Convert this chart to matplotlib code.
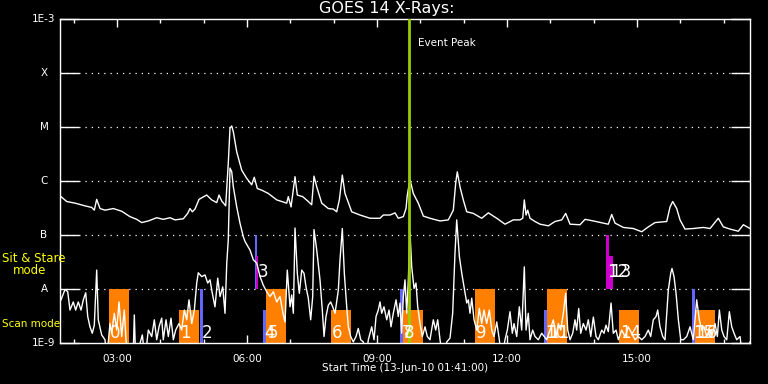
import numpy as np
import matplotlib
matplotlib.use("Agg")
import matplotlib.pyplot as plt
import matplotlib.transforms as mtransforms

# ---- data: minutes after 13-Jun-2010 01:41:00, log10 flux (W/m^2) ----
long_t = [1.4, 9.3, 20.8, 34.6, 43.9, 47.5, 50.8, 55.4, 62.3, 73.8, 85.4, 96.9, 106.2, 113.1,
          122.3, 133.9, 143.0, 152.3, 159.2, 170.7, 176.8, 180.0, 183.2, 186.9, 192.5, 203.1,
          210.1, 217.0, 220.2, 223.9, 229.4, 233.0, 235.4, 237.8, 240.0, 244.7, 251.6, 258.5,
          265.4, 269.0, 273.2, 279.3, 288.4, 300.1, 313.9, 316.1, 319.9, 325.4, 328.6, 336.1,
          343.8, 348.5, 351.7, 355.5, 362.4, 371.5, 378.4, 383.1, 386.8, 390.9, 394.6, 403.9,
          415.4, 429.3, 443.1, 447.7, 457.0, 463.9, 468.4, 475.4, 479.1, 480.9, 484.6, 489.2,
          496.1, 503.1, 512.3, 526.2, 537.7, 544.6, 547.9, 550.1, 553.9, 558.4, 563.2, 572.3,
          583.9, 593.1, 604.7, 616.2, 627.7, 637.0, 640.7, 642.9, 645.3, 647.6, 650.8, 657.7,
          664.7, 676.2, 685.4, 694.7, 700.2, 706.2, 720.0, 727.0, 738.5, 752.3, 759.2, 763.9,
          768.5, 780.0, 793.9, 805.5, 814.6, 823.9, 840.1, 844.7, 848.4, 853.9, 858.5, 865.4,
          876.9, 890.8, 900.1, 911.5, 918.5, 927.7, 939.2, 946.2, 955.4]
long_logf = [-6.29, -6.38, -6.41, -6.46, -6.49, -6.54, -6.34, -6.51, -6.54, -6.51, -6.56, -6.66,
             -6.71, -6.77, -6.74, -6.68, -6.71, -6.68, -6.72, -6.70, -6.60, -6.51, -6.57, -6.52,
             -6.34, -6.26, -6.35, -6.40, -6.26, -6.37, -6.46, -5.67, -5.02, -4.98, -5.09, -5.46,
             -5.80, -5.95, -6.07, -5.93, -6.14, -6.17, -6.23, -6.35, -6.41, -6.29, -6.48, -5.92,
             -6.26, -6.29, -6.38, -6.44, -5.91, -6.11, -6.41, -6.51, -6.52, -6.57, -6.35, -5.89,
             -6.23, -6.57, -6.63, -6.69, -6.69, -6.63, -6.63, -6.59, -6.69, -6.66, -6.51, -6.26,
             -5.97, -6.23, -6.41, -6.65, -6.69, -6.74, -6.72, -6.54, -6.04, -5.83, -6.11, -6.35,
             -6.57, -6.60, -6.69, -6.59, -6.69, -6.80, -6.72, -6.72, -6.69, -6.35, -6.63, -6.54,
             -6.69, -6.75, -6.80, -6.83, -6.75, -6.72, -6.60, -6.80, -6.81, -6.71, -6.74, -6.78,
             -6.80, -6.62, -6.78, -6.86, -6.88, -6.94, -6.85, -6.77, -6.75, -6.48, -6.38, -6.51,
             -6.72, -6.89, -6.88, -6.86, -6.88, -6.69, -6.85, -6.89, -6.93, -6.81, -6.88]

short_t = [1.4, 6.9, 10.7, 13.8, 18.4, 21.7, 25.3, 29.1, 32.3, 35.6, 38.4, 41.5, 44.7, 47.5,
           50.8, 53.0, 57.7, 62.3, 64.7, 69.2, 71.6, 75.2, 78.5, 81.7, 85.4, 89.0, 91.4, 94.6,
           101.1, 102.9, 104.8, 114.0, 117.7, 122.3, 127.0, 130.6, 133.9, 137.1, 140.8, 143.0,
           146.8, 150.0, 153.7, 156.9, 160.2, 164.8, 168.5, 172.1, 175.4, 178.6, 182.4, 186.0,
           189.3, 191.5, 196.2, 200.8, 204.5, 207.7, 210.9, 214.6, 218.4, 221.6, 225.3, 228.5,
           230.9, 233.0, 235.4, 237.8, 240.0, 244.7, 249.2, 253.8, 256.2, 263.1, 267.7, 272.4,
           277.0, 281.5, 286.2, 290.8, 295.4, 300.1, 304.6, 309.2, 311.6, 314.7, 318.5, 320.8,
           323.1, 325.4, 328.6, 331.4, 334.7, 337.9, 340.6, 343.8, 347.1, 349.9, 351.7, 355.5,
           360.0, 363.2, 365.6, 368.3, 371.5, 374.8, 377.6, 380.8, 385.4, 387.7, 390.9, 393.7,
           397.0, 399.2, 402.5, 406.1, 409.9, 413.0, 416.4, 420.0, 423.7, 426.9, 431.6, 434.8,
           437.6, 440.7, 443.1, 445.4, 448.6, 452.4, 455.6, 458.3, 461.5, 465.3, 468.4, 470.8,
           473.1, 475.4, 477.7, 480.1, 482.3, 484.6, 487.0, 490.2, 492.9, 495.3, 498.5, 501.7,
           505.4, 508.6, 512.3, 516.9, 520.2, 523.0, 526.2, 529.9, 535.5, 540.0, 543.7, 546.9,
           549.3, 553.0, 556.3, 559.4, 563.2, 565.4, 567.7, 570.1, 573.3, 577.0, 580.6, 583.9,
           587.1, 590.8, 594.5, 597.8, 601.0, 604.7, 608.3, 611.6, 616.2, 619.4, 623.1, 626.3,
           628.7, 632.4, 636.0, 639.3, 642.9, 645.3, 648.4, 650.8, 654.5, 657.7, 662.3, 667.0,
           673.9, 678.5, 683.1, 686.8, 690.0, 693.3, 696.9, 700.2, 703.0, 706.2, 709.9, 713.1,
           715.4, 718.2, 721.0, 724.6, 728.4, 731.5, 734.9, 738.5, 742.2, 745.4, 750.1, 753.3,
           756.0, 759.2, 763.0, 766.1, 769.9, 773.1, 777.8, 782.3, 786.9, 791.6, 796.2, 800.8,
           805.5, 810.0, 814.6, 817.9, 821.5, 825.3, 827.6, 830.8, 834.5, 837.7, 840.1, 842.3,
           845.6, 847.4, 850.2, 853.0, 856.2, 859.5, 863.1, 867.8, 872.4, 876.9, 881.6, 885.2,
           888.6, 891.7, 895.5, 899.1, 902.4, 907.0, 910.2, 913.0, 916.3, 919.4, 923.2, 926.8,
           930.1, 933.3, 937.0, 941.6, 945.3, 950.8, 955.4]
short_logf = [-8.20, -8.01, -8.05, -8.39, -8.24, -8.39, -8.24, -8.39, -8.20, -8.07, -8.51, -8.70,
              -8.82, -8.67, -7.65, -8.57, -8.85, -8.94, -9.30, -8.64, -8.82, -8.45, -8.76, -8.24,
              -8.88, -8.39, -8.94, -9.30, -9.30, -8.48, -9.30, -8.85, -9.30, -8.76, -8.88, -8.57,
              -8.94, -8.70, -8.54, -8.94, -8.57, -8.88, -8.54, -8.94, -8.76, -8.64, -8.76, -8.39,
              -8.57, -8.20, -8.64, -8.39, -7.89, -7.70, -7.77, -7.74, -7.89, -7.83, -8.08, -8.33,
              -7.80, -8.14, -7.96, -8.45, -7.52, -7.09, -5.76, -5.83, -6.11, -6.48, -6.78, -7.03,
              -7.12, -7.28, -7.46, -7.52, -7.77, -7.93, -8.05, -8.14, -8.05, -8.24, -8.14, -8.48,
              -8.61, -7.65, -8.33, -8.11, -8.45, -6.87, -7.71, -8.08, -7.65, -7.71, -7.96, -8.17,
              -8.57, -8.14, -6.90, -7.28, -7.83, -8.39, -8.88, -8.51, -8.30, -8.24, -8.33, -8.45,
              -8.02, -7.46, -6.88, -7.71, -8.33, -8.70, -8.88, -8.98, -8.88, -8.73, -8.94, -8.98,
              -9.30, -8.94, -8.70, -8.94, -8.51, -8.39, -8.24, -8.45, -8.33, -8.57, -8.39, -8.70,
              -8.45, -8.20, -8.51, -8.26, -8.82, -8.14, -7.83, -8.45, -7.83, -6.94, -7.59, -7.99,
              -7.89, -8.33, -8.64, -8.88, -8.70, -8.88, -8.94, -8.57, -8.76, -8.57, -8.94, -9.30,
              -8.98, -8.91, -8.45, -7.34, -6.72, -7.40, -7.71, -7.96, -8.26, -8.20, -8.45, -8.17,
              -8.57, -8.76, -8.36, -8.64, -8.39, -8.64, -8.39, -8.76, -8.88, -8.61, -8.94, -9.30,
              -8.94, -8.76, -8.42, -8.82, -8.64, -8.88, -8.33, -8.76, -7.59, -8.76, -8.45, -8.94,
              -8.76, -8.88, -8.94, -8.82, -8.94, -8.76, -8.57, -8.88, -8.64, -8.76, -8.45, -8.08,
              -8.76, -8.94, -8.82, -8.57, -8.76, -8.36, -8.82, -8.64, -8.76, -8.57, -8.88, -8.52,
              -8.88, -8.94, -8.76, -8.82, -8.67, -8.79, -8.26, -8.82, -8.76, -8.94, -8.76, -8.88,
              -8.70, -8.82, -8.94, -8.88, -8.94, -8.88, -8.76, -8.88, -8.57, -8.51, -8.39, -8.70,
              -8.88, -8.94, -8.45, -8.02, -7.71, -7.62, -7.77, -8.08, -8.57, -8.94, -8.94, -8.88,
              -8.70, -8.94, -8.20, -8.57, -8.76, -8.70, -8.88, -8.76, -8.88, -8.64, -8.88, -8.39,
              -8.76, -8.88, -8.94, -8.42, -8.70, -8.82, -8.94, -8.88, -9.30, -9.30, -8.98]

# ---- observation bars: start/end (minutes after 01:41), bottom/top flux ----
bar_start = [67.8, 164.8, 193.9, 270.0, 271.4, 281.5, 285.3, 375.3, 470.8, 475.0, 574.6,
             670.2, 674.3, 756.0, 759.8, 774.0, 875.1, 879.3]
bar_end = [95.5, 192.5, 198.4, 272.8, 274.2, 285.3, 312.5, 402.5, 475.0, 502.2, 602.4,
           674.3, 702.0, 759.8, 765.7, 801.7, 879.3, 907.0]
bar_bottom = [1e-9, 1e-9, 1e-9, 1e-8, 1e-8, 1e-9, 1e-9, 1e-9, 1e-9, 1e-9, 1e-9,
              1e-9, 1e-9, 1e-8, 1e-8, 1e-9, 1e-9, 1e-9]
bar_top = [1e-8, 4e-9, 1e-8, 1e-7, 4e-8, 4e-9, 1e-8, 4e-9, 1e-8, 4e-9, 1e-8,
           4e-9, 1e-8, 1e-7, 4e-8, 4e-9, 1e-8, 4e-9]
bar_kind = ["scan", "scan", "blue", "blue", "sit", "blue", "scan", "scan", "blue", "scan", "scan",
            "blue", "scan", "sit", "sit", "scan", "blue", "scan"]
bar_label = ["0", "1", "2", "", "3", "4", "5", "6", "7", "8", "9",
             "10", "11", "12", "13", "14", "15", "16"]

event_peak = 483.0  # minutes after start (~09:44)
t0_hours = 1 + 41 / 60.0
t_span = 955.4

level_vals = [1e-8, 1e-7, 1e-6, 1e-5, 1e-4]
level_names = ["A", "B", "C", "M", "X"]

kind_color = {"scan": "#ff8000", "blue": "#6464ff", "sit": "#cc00cc"}

W, H = 768, 384
fig = plt.figure(figsize=(W / 100, H / 100), dpi=100, facecolor="black")
ax = fig.add_axes([60 / W, 1 - 343 / H, 690 / W, 324 / H], facecolor="black")
ax.set_yscale("log")
ax.set_ylim(1e-9, 1e-3)
ax.set_xlim(t0_hours, t0_hours + t_span / 60.0)


def hrs(m):
    return t0_hours + np.asarray(m) / 60.0


# bars
for s, e, b, tp, k in zip(bar_start, bar_end, bar_bottom, bar_top, bar_kind):
    ax.fill_between([hrs(s), hrs(e)], [b, b], [tp, tp], color=kind_color[k], lw=0, zorder=2)

# gridlines
for v in level_vals:
    ax.axhline(v, color="white", lw=0.9, ls=(0, (1, 4)), zorder=1)

# curves
ax.plot(hrs(long_t), 10 ** np.array(long_logf), color="white", lw=1.0, zorder=3)
ax.plot(hrs(short_t), 10 ** np.array(short_logf), color="white", lw=1.0, zorder=3)

# event peak
ax.axvline(hrs(event_peak), color="#99cc00", lw=2.0, zorder=4)
ax.text(hrs(event_peak) + 0.22, 10 ** (-3.45), "Event Peak", color="white", fontsize=7.5,
        va="center", ha="left")

# labels on bars
narrow = ["Liberation Sans Narrow", "DejaVu Sans"]
for s, tp, k, lab in zip(bar_start, bar_top, bar_kind, bar_label):
    if not lab:
        continue
    yv = 10 ** (-7.68) if k == "sit" else 10 ** (-8.815)
    ax.text(hrs(s) + 0.03, yv, lab, color="white", fontsize=12, family=narrow,
            va="center", ha="left", zorder=5)

# axes styling
for sp in ax.spines.values():
    sp.set_color("white")
    sp.set_linewidth(1.0)
ax.set_yticks([1e-9] + level_vals + [1e-3])
ax.set_yticklabels([])
ax.yaxis.set_minor_locator(matplotlib.ticker.NullLocator())
ax.tick_params(axis="y", which="major", direction="in", length=14, width=1.0, color="white",
               left=True, right=True)
maj = [3, 6, 9, 12, 15]
ax.set_xticks(maj)
ax.set_xticklabels(["%02d:00" % h for h in maj])
ax.set_xticks([2, 4, 5, 7, 8, 10, 11, 13, 14, 16, 17], minor=True)
ax.tick_params(axis="x", which="major", direction="in", length=6, width=1.0, color="white",
               top=True, bottom=True, labelcolor="white", labelsize=7.5, pad=8)
ax.tick_params(axis="x", which="minor", direction="in", length=3, width=1.0, color="white",
               top=True, bottom=True)

# y labels (centered at x=44px)
blend = mtransforms.blended_transform_factory(fig.transFigure, ax.transData)
ylabs = ["1E-9"] + level_names + ["1E-3"]
for v, lab in zip([1e-9] + level_vals + [1e-3], ylabs):
    ax.text(44 / W, v, lab, transform=blend, ha="center", va="center", color="white",
            fontsize=7.5, clip_on=False)

fig.text(2 / W, 1 - 258 / H, "Sit & Stare", color="yellow", fontsize=8.5, ha="left", va="center")
fig.text(13 / W, 1 - 270 / H, "mode", color="yellow", fontsize=8.5, ha="left", va="center")
fig.text(2 / W, 1 - 324 / H, "Scan mode", color="yellow", fontsize=7.5, ha="left", va="center")

fig.text(387 / W, 1 - 9 / H, "GOES 14 X-Rays:", color="white", fontsize=11.5, ha="center",
         va="center")
fig.text(405 / W, 1 - 368 / H, "Start Time (13-Jun-10 01:41:00)", color="white", fontsize=7.5,
         ha="center", va="center")

fig.savefig("out.png", dpi=100, facecolor="black")
